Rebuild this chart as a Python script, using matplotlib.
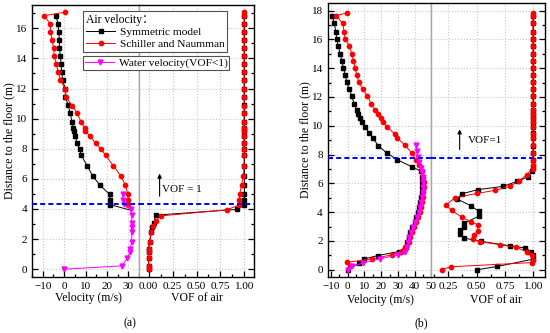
import matplotlib
matplotlib.use('Agg')
import matplotlib.pyplot as plt
from matplotlib.lines import Line2D
from matplotlib.ticker import MultipleLocator

plt.rcParams['font.family'] = ['Liberation Serif', 'Noto Sans CJK SC']
plt.rcParams['font.size'] = 8

# ---------------- data : panel (a) ----------------
y_sym_a = [16.84, 16.29, 15.76, 15.23, 14.69, 14.16, 13.63, 13.10, 12.57, 11.95, 11.42, 10.88, 10.35, 9.77,
           9.37, 9.15, 8.84, 8.36, 7.98, 7.56, 6.87, 6.20, 5.59, 4.97, 4.59, 4.28, 3.92]
v_sym_a = [-3.8, -2.8, -2.5, -2.2, -2.2, -1.7, -1.4, -1.1, -0.7, 0.6, 0.6, 2.0, 2.8, 3.8,
           4.2, 4.4, 5.2, 6.1, 7.2, 8.0, 10.8, 13.3, 16.7, 21.3, 21.4, 21.6, 31.1]
y_sn_a = [17.07, 16.84, 16.29, 15.76, 15.23, 14.69, 14.16, 13.63, 13.10, 12.57, 11.95, 11.42, 10.84, 10.35,
          9.77, 9.37, 9.16, 8.84, 8.36, 7.96, 7.56, 6.87, 6.20, 5.59, 4.97, 4.59, 4.25, 3.92]
v_sn_a = [0.3, -9.4, -6.4, -6.4, -5.6, -4.9, -4.6, -3.6, -2.8, -1.7, 0.6, 0.9, 3.9, 6.1,
          8.0, 9.7, 9.9, 12.2, 14.7, 17.4, 19.4, 23.0, 26.5, 28.6, 29.8, 29.9, 29.7, 31.1]
y_w_a = [4.97, 4.59, 4.30, 3.99, 3.59, 3.08, 2.81, 2.44, 1.82, 1.31, 1.15, 0.75, 0.22, 0.0]
v_w_a = [27.5, 27.5, 28.0, 31.1, 31.6, 31.6, 31.6, 31.6, 31.6, 30.8, 30.8, 29.6, 27.0, 0.0]

yf_sym_a = [16.84, 16.29, 15.76, 15.23, 14.69, 14.16, 13.63, 13.10, 12.57, 11.95, 11.42, 10.88, 10.35, 9.77,
            9.37, 9.15, 8.84, 8.36, 7.98, 7.56, 6.87, 6.20, 5.59, 4.97, 4.59, 4.28,
            3.97, 3.59, 3.08, 2.81, 2.44, 1.82, 1.31, 1.15, 0.75, 0.22, 0.0]
f_sym_a = [1.0, 1.0, 1.0, 1.0, 1.0, 1.0, 1.0, 1.0, 1.0, 1.0, 1.0, 1.0, 1.0, 1.0,
           1.0, 1.0, 1.0, 1.0, 1.0, 1.0, 1.0, 1.0, 1.0, 1.0, 1.0, 1.0,
           0.92, 0.073, 0.056, 0.039, 0.029, 0.01, 0.0, 0.0, 0.0, 0.0, 0.0]
yf_sn_a = [17.07, 16.84, 16.29, 15.76, 15.23, 14.69, 14.16, 13.63, 13.10, 12.57, 11.95, 11.42, 10.84, 10.35,
           9.77, 9.37, 9.16, 8.84, 8.36, 7.96, 7.56, 6.87, 6.20, 5.59, 4.97, 4.59, 4.25,
           3.94, 3.54, 3.19, 2.86, 2.48, 1.82, 1.31, 1.15, 0.75, 0.22, 0.0]
f_sn_a = [0.995, 0.995, 0.995, 0.995, 0.995, 0.995, 0.995, 0.995, 0.995, 0.995, 0.995, 0.995, 0.995, 0.995,
          0.995, 0.995, 0.995, 0.995, 0.995, 0.995, 0.995, 0.995, 0.99, 0.97, 0.95, 0.945, 0.94,
          0.815, 0.126, 0.073, 0.045, 0.03, 0.01, 0.0, 0.0, 0.0, 0.0, 0.0]

# ---------------- data : panel (b) ----------------
y_sym_b = [17.65, 17.10, 16.54, 16.03, 15.52, 15.01, 14.52, 14.02, 13.55, 13.02, 12.56, 12.04, 11.54, 11.07,
           10.82, 10.54, 10.24, 9.89, 9.50, 9.15, 8.60, 8.11, 7.64, 7.14, 6.83, 6.42, 6.07, 5.73, 5.38,
           5.04, 4.70, 4.35, 4.00, 3.66, 3.32, 2.98, 2.63, 2.29, 1.95, 1.60, 1.27, 0.99, 0.76, 0.47, 0.0]
v_sym_b = [-9.4, -8.0, -7.2, -6.6, -5.6, -4.6, -3.6, -2.6, -1.6, -0.6, 0.8, 2.4, 3.8, 5.4,
           6.4, 7.4, 8.8, 10.4, 13.0, 15.0, 18.4, 23.4, 29.6, 38.6, 44.0, 44.4, 44.6, 44.6, 44.4,
           44.0, 43.4, 42.6, 42.0, 41.0, 40.0, 38.6, 37.4, 36.4, 35.6, 34.8, 30.6, 18.2, 10.0, 7.0, 0.0]
y_sn_b = [17.84, 17.65, 17.10, 16.54, 16.03, 15.52, 15.01, 14.52, 14.02, 13.55, 13.02, 12.56, 12.04, 11.54,
          11.07, 10.82, 10.54, 10.24, 9.92, 9.45, 9.15, 8.64, 8.11, 7.64, 7.25, 6.83, 6.42, 6.07, 5.73,
          5.38, 5.04, 4.70, 4.35, 4.00, 3.66, 3.32, 2.98, 2.63, 2.29, 1.95, 1.58, 1.27, 1.04, 0.76, 0.51, 0.23]
v_sn_b = [-0.2, -7.0, -3.0, -2.2, -1.6, 1.0, 2.4, 3.4, 4.4, 5.4, 6.6, 9.0, 11.8, 14.0,
          16.4, 18.0, 19.8, 21.0, 23.5, 28.0, 29.6, 34.4, 38.2, 40.8, 42.4, 44.6, 45.2, 45.4, 45.4,
          45.2, 44.8, 44.4, 43.8, 43.0, 42.0, 41.0, 39.6, 38.4, 37.2, 36.4, 34.4, 32.0, 26.4, 14.4, -0.6, 1.4]
y_w_b = [8.64, 8.22, 7.80, 7.45, 7.10, 6.76, 6.42, 6.07, 5.73, 5.38, 5.04, 4.70, 4.35, 4.00,
         3.66, 3.32, 2.98, 2.63, 2.29, 1.95, 1.60, 1.27, 1.04, 0.76, 0.47, 0.23, 0.0]
v_w_b = [41.0, 41.4, 42.0, 42.8, 43.6, 44.4, 44.8, 45.0, 45.0, 44.8, 44.4, 43.8, 43.0, 42.4,
         41.4, 40.4, 39.0, 37.8, 36.8, 36.0, 35.2, 34.0, 30.0, 19.4, 9.0, 2.4, 0.0]

yf_sym_b = [17.65, 17.10, 16.54, 16.03, 15.52, 15.01, 14.52, 14.02, 13.55, 13.02, 12.56, 12.04, 11.54, 11.07,
            10.82, 10.54, 10.24, 9.89, 9.50, 9.15, 8.60, 8.11, 7.64, 7.14,
            6.83, 6.45, 6.14, 5.79, 5.56, 5.28, 4.90, 4.45, 4.05, 3.72, 3.24, 2.94, 2.78, 2.50, 2.20,
            1.97, 1.67, 1.51, 1.27, 1.04, 0.74, 0.23, 0.0]
f_sym_b = [1.0, 1.0, 1.0, 1.0, 1.0, 1.0, 1.0, 1.0, 1.0, 1.0, 1.0, 1.0, 1.0, 1.0,
           1.0, 1.0, 1.0, 1.0, 1.0, 1.0, 1.0, 1.0, 1.0, 1.0,
           0.99, 0.95, 0.86, 0.73, 0.51, 0.37, 0.33, 0.45, 0.52, 0.52, 0.39, 0.39, 0.35, 0.35, 0.39,
           0.54, 0.79, 0.93, 0.98, 1.0, 1.0, 0.68, 0.50]
yf_sn_b = [17.84, 17.65, 17.10, 16.54, 16.03, 15.52, 15.01, 14.52, 14.02, 13.55, 13.02, 12.56, 12.04, 11.54,
           11.07, 10.82, 10.54, 10.24, 9.92, 9.45, 9.15, 8.64, 8.11, 7.64, 7.25,
           7.00, 6.60, 6.14, 5.79, 5.51, 5.30, 5.00, 4.50, 4.12, 3.65, 3.33, 3.13, 2.70, 2.43, 2.15,
           1.95, 1.74, 1.55, 1.27, 1.04, 0.70, 0.50, 0.21, 0.0]
f_sn_b = [0.995, 0.995, 0.995, 0.995, 0.995, 0.995, 0.995, 0.995, 0.995, 0.995, 0.995, 0.995, 0.995, 0.995,
          0.995, 0.995, 0.995, 0.995, 0.995, 0.995, 0.995, 0.995, 0.995, 0.995, 0.995,
          0.995, 0.94, 0.87, 0.79, 0.66, 0.50, 0.31, 0.23, 0.28, 0.37, 0.45, 0.51, 0.51, 0.48, 0.47,
          0.53, 0.71, 0.85, 0.94, 0.99, 1.0, 0.99, 0.27, 0.19]

interface_a = 4.32
interface_b = 7.78

labels = ['Symmetric model', 'Schiller and Naumman', 'Water velocity(VOF<1)']
legend_title = 'Air velocity\uff1a'

# ---------------- styling ----------------
W, H = 550, 333
fig = plt.figure(figsize=(5.5, 3.33), dpi=100)

BLACK = '#000000'
RED = '#FF0000'
MAG = '#FF00FF'
BLUE = '#0000FF'
GRID = '#C8C8C8'
DIV = '#A8A8A8'
LW = 0.7
MS_SQ, MS_CI, MS_TR = 2.7, 3.1, 3.5


def rect(l, r, t, b):
    return [l / W, 1 - b / H, (r - l) / W, (b - t) / H]


def fx(x):
    return x / W


def fy(y):
    return 1 - y / H


def base(ax, xlim, ylim, xmaj, xmin_, side):
    ax.set_xlim(*xlim)
    ax.set_ylim(*ylim)
    ax.xaxis.set_major_locator(MultipleLocator(xmaj))
    ax.xaxis.set_minor_locator(MultipleLocator(xmin_))
    ax.yaxis.set_major_locator(MultipleLocator(2))
    ax.yaxis.set_minor_locator(MultipleLocator(1))
    ax.grid(True, which='major', color=GRID, linestyle=':', linewidth=0.8)
    ax.set_axisbelow(True)
    for s in ax.spines.values():
        s.set_linewidth(1.0)
        s.set_color(BLACK)
    ax.tick_params(which='both', direction='in', top=False, labelsize=8, width=0.9, pad=3.5)
    ax.tick_params(which='major', length=4)
    ax.tick_params(which='minor', length=2.3)
    if side == 'left':
        ax.spines['right'].set_color(DIV)
        ax.tick_params(axis='y', which='both', left=True, right=False, labelleft=True)
    else:
        ax.spines['left'].set_color(DIV)
        ax.tick_params(axis='y', which='both', left=False, right=True, labelleft=False, labelright=False)


def plot_series(ax, x, y, color, marker, ms, z, markevery=None):
    ax.plot(x, y, color=color, lw=LW, marker=marker, ms=ms, mfc=color, mec=color,
            markevery=markevery, zorder=z, clip_on=False)


# ---------- panel (a) ----------
ava = fig.add_axes(rect(32, 139, 4.7, 276.7))
afa = fig.add_axes(rect(139, 254, 4.7, 276.7))
base(ava, (-15, 35), (-0.5, 17.57), 10, 5, 'left')
base(afa, (-0.1, 1.1), (-0.5, 17.57), 0.25, 0.125, 'right')
ava.set_xticks([-10, 0, 10, 20, 30])
afa.set_xticks([0.0, 0.25, 0.5, 0.75, 1.0])
afa.set_xticklabels(['0.00', '0.25', '0.50', '0.75', '1.00'])

plot_series(ava, v_sym_a, y_sym_a, BLACK, 's', MS_SQ, 3, markevery=list(range(len(y_sym_a) - 1)))
plot_series(ava, v_sn_a, y_sn_a, RED, 'o', MS_CI, 4, markevery=list(range(len(y_sn_a) - 1)))
plot_series(ava, v_w_a, y_w_a, MAG, 'v', MS_TR, 5)
plot_series(afa, f_sym_a, yf_sym_a, BLACK, 's', MS_SQ, 3)
plot_series(afa, f_sn_a, yf_sn_a, RED, 'o', MS_CI, 4)
for ax in (ava, afa):
    ax.axhline(interface_a, color=BLUE, lw=1.4, ls=(0, (2.6, 1.6)), zorder=6)

afa.annotate('', xy=(0.115, 6.35), xytext=(0.115, 4.85),
             arrowprops=dict(arrowstyle='-|>', color=BLACK, lw=0.8, mutation_scale=6, shrinkA=0, shrinkB=0))
afa.text(0.135, 5.3, 'VOF = 1', fontsize=8, va='center', ha='left')

# ---------- panel (b) ----------
avb = fig.add_axes(rect(327.7, 431.3, 3.3, 277))
afb = fig.add_axes(rect(431.3, 544.7, 3.3, 277))
base(avb, (-12, 50), (-0.5, 18.5), 10, 5, 'left')
base(afb, (0.1, 1.1), (-0.5, 18.5), 0.25, 0.125, 'right')
avb.set_xticks([-10, 0, 10, 20, 30, 40, 50])
afb.set_xticks([0.25, 0.5, 0.75, 1.0])
afb.set_xticklabels(['0.25', '0.50', '0.75', '1.00'])

plot_series(avb, v_sym_b, y_sym_b, BLACK, 's', MS_SQ, 3)
plot_series(avb, v_sn_b, y_sn_b, RED, 'o', MS_CI, 4)
plot_series(avb, v_w_b, y_w_b, MAG, 'v', MS_TR, 5)
plot_series(afb, f_sym_b, yf_sym_b, BLACK, 's', MS_SQ, 3)
plot_series(afb, f_sn_b, yf_sn_b, RED, 'o', MS_CI, 4)
for ax in (avb, afb):
    ax.axhline(interface_b, color=BLUE, lw=1.4, ls=(0, (2.6, 1.6)), zorder=6)

afb.annotate('', xy=(0.35, 9.75), xytext=(0.35, 8.35),
             arrowprops=dict(arrowstyle='-|>', color=BLACK, lw=0.8, mutation_scale=6, shrinkA=0, shrinkB=0))
afb.text(0.42, 8.95, 'VOF=1', fontsize=8, va='center', ha='left')

# ---------- legends (panel a) ----------
h_sym = Line2D([], [], color=BLACK, lw=LW, marker='s', ms=MS_SQ)
h_sn = Line2D([], [], color=RED, lw=LW, marker='o', ms=MS_CI)
h_w = Line2D([], [], color=MAG, lw=LW, marker='v', ms=MS_TR)
leg1 = fig.legend([h_sym, h_sn], labels[:2], title=legend_title, loc='upper left',
                  bbox_to_anchor=(fx(83), fy(10.7)), fontsize=8.2, title_fontsize=8.4,
                  frameon=True, fancybox=False, framealpha=1, edgecolor='#505050',
                  handlelength=2.6, handletextpad=0.4, borderpad=0.25, labelspacing=0.15,
                  borderaxespad=0, alignment='left')
leg1.get_frame().set_linewidth(0.8)
leg2 = fig.legend([h_w], labels[2:], loc='upper left',
                  bbox_to_anchor=(fx(83), fy(56)), fontsize=8.2,
                  frameon=True, fancybox=False, framealpha=1, edgecolor='#505050',
                  handlelength=2.6, handletextpad=0.4, borderpad=0.15, borderaxespad=0)
leg2.get_frame().set_linewidth(0.8)

# ---------- axis labels ----------
fig.text(fx(88), fy(298), 'Velocity (m/s)', fontsize=8.5, ha='center', va='center')
fig.text(fx(197), fy(298), 'VOF of air', fontsize=8.5, ha='center', va='center')
fig.text(fx(380), fy(300), 'Velocity (m/s)', fontsize=8.5, ha='center', va='center')
fig.text(fx(496), fy(300), 'VOF of air', fontsize=8.5, ha='center', va='center')
fig.text(fx(9), fy(141), 'Distance to the floor (m)', fontsize=8.5, ha='center', va='center', rotation=90)
fig.text(fx(305), fy(140), 'Distance to the floor (m)', fontsize=8.5, ha='center', va='center', rotation=90)
fig.text(fx(130), fy(323), '(a)', fontsize=8.5, ha='center', va='center')
fig.text(fx(421), fy(323), '(b)', fontsize=8.5, ha='center', va='center')

fig.savefig('out.png', dpi=100)
